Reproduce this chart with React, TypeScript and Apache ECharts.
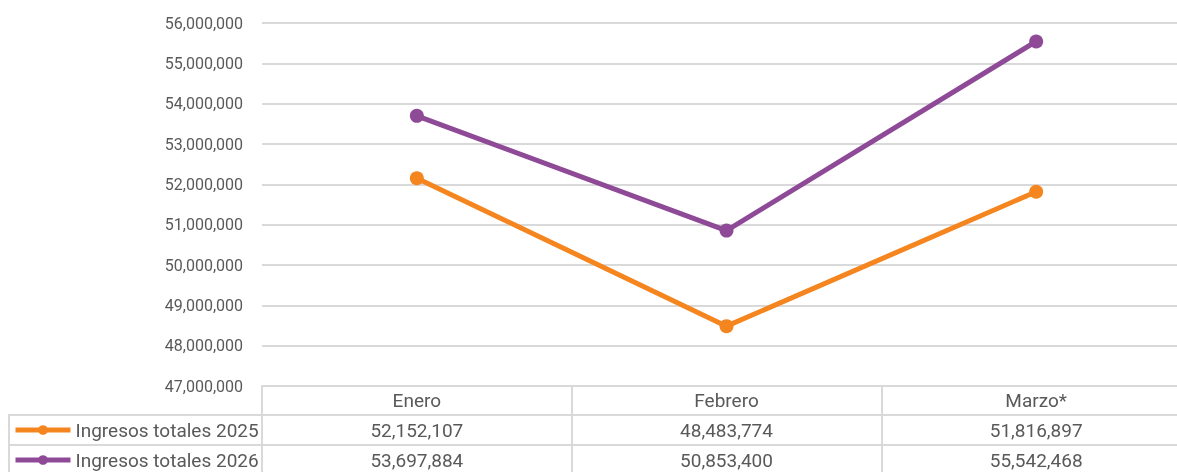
import React, { useEffect, useRef } from "react";
import * as echarts from "echarts";

const categories = ["Enero", "Febrero", "Marzo*"];
const ingresos2025 = [52152107, 48483774, 51816897];
const ingresos2026 = [53697884, 50853400, 55542468];
const seriesNames = ["Ingresos totales 2025", "Ingresos totales 2026"];
const seriesColors = ["#F5851F", "#8E4A97"];

const fmt = (v: number) => v.toLocaleString("en-US");

export default function App() {
  const ref = useRef<HTMLDivElement>(null);
  useEffect(() => {
    if (!ref.current) return;
    const chart = echarts.init(ref.current, undefined, { renderer: "svg" });
    const font = "Roboto";
    const grey = "#595959";
    const lineCol = "#d9d9d9";
    const allSeries = [ingresos2025, ingresos2026];
    chart.setOption({
      animation: false,
      textStyle: { fontFamily: font },
      grid: { left: 262, right: 0, top: 23, bottom: 86 },
      legend: {
        orient: "vertical",
        left: 13,
        top: 420,
        padding: 0,
        itemGap: 10,
        itemWidth: 55,
        itemHeight: 12,
        lineStyle: { width: 5 },
        textStyle: { fontFamily: font, fontSize: 19, color: grey, lineHeight: 20 },
        data: seriesNames,
      },
      xAxis: {
        type: "category",
        data: categories,
        boundaryGap: true,
        axisLine: { show: true, lineStyle: { color: lineCol, width: 2 } },
        axisTick: { show: true, length: 90, lineStyle: { color: lineCol, width: 2 } },
        axisLabel: { fontFamily: font, fontSize: 19, color: grey, margin: 5, lineHeight: 19 },
      },
      yAxis: {
        type: "value",
        min: 47000000,
        max: 56000000,
        interval: 1000000,
        axisLine: { show: false },
        axisTick: { show: false },
        axisLabel: { fontFamily: font, fontSize: 16, color: grey, margin: 19, formatter: (v: number) => fmt(v) },
        splitLine: { lineStyle: { color: lineCol, width: 2 } },
      },
      series: allSeries.map((d, i) => ({
        name: seriesNames[i],
        type: "line",
        data: d,
        symbol: "circle",
        symbolSize: 14,
        lineStyle: { width: 5, color: seriesColors[i] },
        itemStyle: { color: seriesColors[i] },
      })),
    });

    const rowY = [430, 460];
    const texts: any[] = [];
    allSeries.forEach((d, si) => {
      d.forEach((v, ci) => {
        const px = chart.convertToPixel({ xAxisIndex: 0 }, ci) as number;
        texts.push({
          type: "text",
          x: px,
          y: rowY[si],
          style: {
            text: fmt(v),
            fontFamily: font,
            fontSize: 19,
            fill: grey,
            align: "center",
            verticalAlign: "middle",
          },
        });
      });
    });
    const lineStyle = { stroke: lineCol, lineWidth: 2 };
    texts.push(
      { type: "line", shape: { x1: 8, y1: 415, x2: 1191, y2: 415 }, style: lineStyle },
      { type: "line", shape: { x1: 8, y1: 445, x2: 1191, y2: 445 }, style: lineStyle },
      { type: "line", shape: { x1: 9, y1: 415, x2: 9, y2: 472 }, style: lineStyle }
    );
    chart.setOption({ graphic: texts });

    return () => chart.dispose();
  }, []);
  return (
    <div style={{ position: "fixed", left: 0, top: 0, width: 1177, height: 472, overflow: "hidden" }}>
      <div ref={ref} style={{ width: 1191, height: 472 }} />
    </div>
  );
}
